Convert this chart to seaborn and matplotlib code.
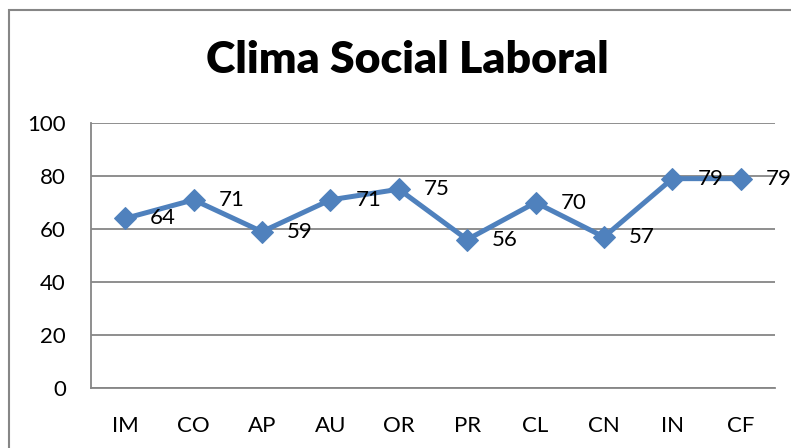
import pandas as pd
import matplotlib.pyplot as plt
import seaborn as sns
from matplotlib.patches import Rectangle

# data
categorias = ["IM", "CO", "AP", "AU", "OR", "PR", "CL", "CN", "IN", "CF"]
valores = [64, 71, 59, 71, 75, 56, 70, 57, 79, 79]
y_ticks = [0, 20, 40, 60, 80, 100]

df = pd.DataFrame({"cat": categorias, "val": valores})
df["pos"] = range(len(categorias))

sns.set_theme(style="white")
plt.rcParams['font.family'] = ['Lato', 'DejaVu Sans']

fig = plt.figure(figsize=(7.91, 4.48), dpi=100)
ax = fig.add_axes([91/791, 1 - 388/448, (775 - 91)/791, (388 - 123)/448])

# outer chart frame (runs off the right/bottom edges)
fig.patches.append(Rectangle((9/791, -0.1), 1.2, 1 - 10/448 + 0.1,
                             transform=fig.transFigure, fill=False,
                             edgecolor="#868686", linewidth=1.5))

sns.lineplot(data=df, x="pos", y="val", ax=ax, color="#4F81BD",
             linewidth=3.6, marker="D", markersize=11.5,
             markeredgecolor="#4F81BD", zorder=3)

for x, v in zip(df["pos"], df["val"]):
    ax.annotate(str(v), (x, v), xytext=(18, 0), textcoords="offset points",
                ha="left", va="center", fontsize=16, color="black",
                annotation_clip=False, zorder=4)

ax.set_xlim(-0.5, len(categorias) - 0.5)
ax.set_ylim(0, 100)
ax.set_yticks(y_ticks)
ax.set_xticks(df["pos"])
ax.set_xticklabels(categorias)
ax.yaxis.grid(True, color="#868686", linewidth=1.3)
ax.set_axisbelow(True)
for s in ["top", "right"]:
    ax.spines[s].set_visible(False)
for s in ["left", "bottom"]:
    ax.spines[s].set_color("#868686")
    ax.spines[s].set_linewidth(1.3)
ax.tick_params(axis="both", labelsize=16, length=0, colors="black")
ax.tick_params(axis="y", pad=18)
ax.tick_params(axis="x", pad=20)
ax.set_xlabel("")
ax.set_ylabel("")

fig.text(407/791, 1 - 60/448, "Clima Social Laboral", ha="center", va="center",
         fontsize=32, fontweight="heavy", color="black")

fig.savefig("out.png", dpi=100)
